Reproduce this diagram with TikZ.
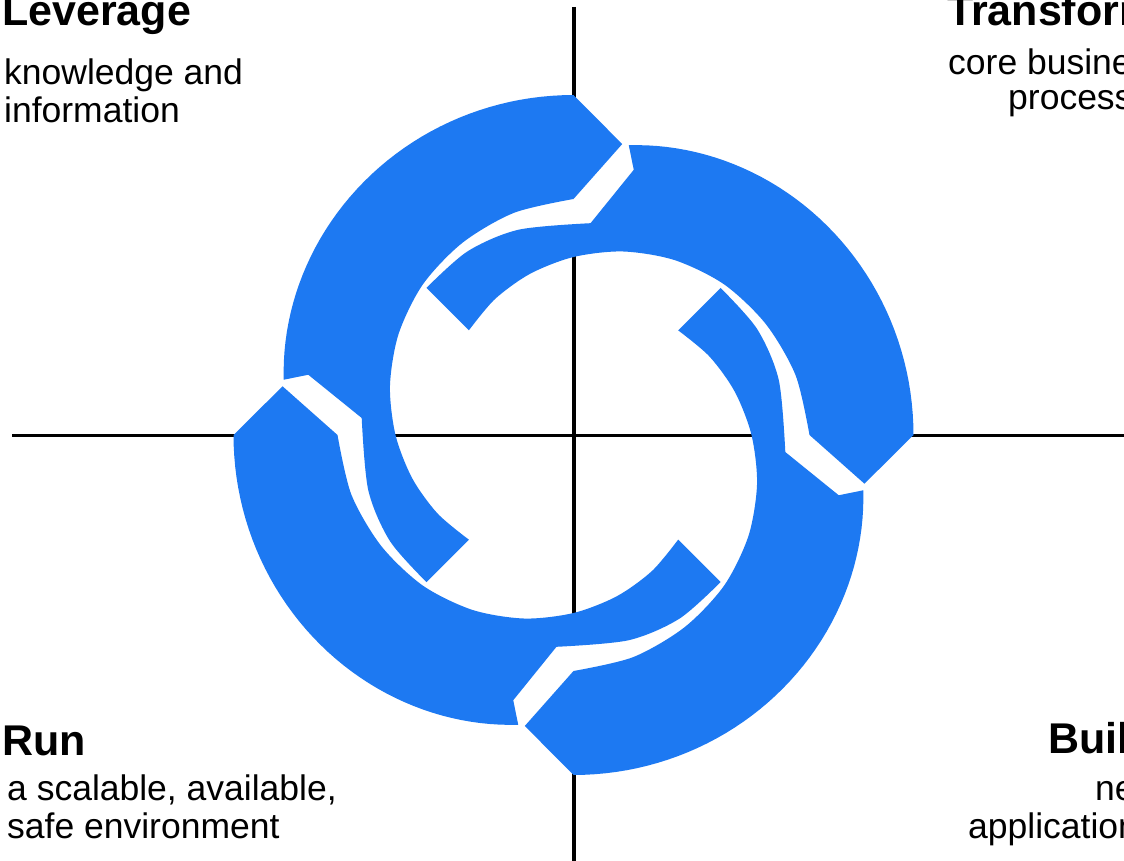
\documentclass[tikz,border=0pt]{standalone}
\usepackage{fontspec}
\setmainfont{Liberation Sans}
\definecolor{ringblue}{RGB}{29,121,242}
\tikzset{
  ttl/.style={font=\fontsize{43}{46}\selectfont\bfseries, inner sep=0pt, text=black},
  sub/.style={font=\fontsize{35.5}{38}\selectfont, inner sep=0pt, text=black},
  axisline/.style={black, line width=3.5pt},
  ringgap/.pic={
    \fill[white] plot[smooth] coordinates {(0:216) (-15:225) (-30:233) (-45:239)}
      -- (-54.5:300) -- (-56:300) -- (-57.8:270) -- (-49.6:209)
      -- plot[smooth] coordinates {(-49.6:209) (-30:209) (-15:209) (0:205)} -- cycle;
  },
  ringseg/.pic={
    \fill[ringblue] plot[smooth] coordinates {(0:208) (-15:212) (-30:212.5) (-49.6:212.5)}
      -- (-57.8:272) -- (-55.8:295)
      -- plot[domain=55.8:135, samples=45] (-\x:{340-45*((135-\x)/79.2)^2})
      -- (-144.5:295) -- (-135:236)
      -- plot[smooth] coordinates {(-135:236) (-120:230) (-105:222) (-90:213) (-75:202)
           (-60:190) (-45:178) (-30:167) (-15:157) (0:148)} -- cycle;
  },
}
\begin{document}
\begin{tikzpicture}[x=1pt,y=1pt]
\useasboundingbox (0,0) rectangle (1124,-861);
\fill[white] (0,0) rectangle (1124,-861);
\clip (0,0) rectangle (1124,-861);
\coordinate (ctr) at (573.5,-435);
\coordinate (vtop) at (573.5,-7);
\coordinate (vbot) at (573.5,-861);
\coordinate (hleft) at (12,-435);
\coordinate (hright) at (1124,-435);
\draw[axisline, line width=4pt] (vtop) -- (vbot);
\draw[axisline, line width=3pt] (hleft) -- (hright);
% white gaps between segments
\pic[rotate=135] (gT) at (ctr) {ringgap};
\pic[rotate=225] (gL) at (ctr) {ringgap};
\pic[rotate=315] (gR) at (ctr) {ringgap};
\pic[rotate=45]  (gB) at (ctr) {ringgap};
% blue segments
\pic[rotate=135] (segT) at (ctr) {ringseg};
\pic[rotate=225] (segL) at (ctr) {ringseg};
\pic[rotate=315] (segR) at (ctr) {ringseg};
\pic[rotate=45]  (segB) at (ctr) {ringseg};
% labels
\node[ttl, anchor=base west] (lev) at (2,-26) {Leverage};
\node[sub, anchor=base west] (lev1) at (4,-85) {knowledge and};
\node[sub, anchor=base west] (lev2) at (4,-123) {information};
\node[ttl, anchor=base west] (tra) at (947,-26) {Transform};
\node[sub, anchor=base west] (tra1) at (948,-75) {core business};
\node[sub, anchor=base west] (tra2) at (1008,-110) {processes};
\node[ttl, anchor=base west] (run) at (2,-755) {Run};
\node[sub, anchor=base west] (run1) at (7,-800) {a scalable, available,};
\node[sub, anchor=base west] (run2) at (7,-838) {safe environment};
\node[ttl, anchor=base west] (bui) at (1048,-753) {Build};
\node[sub, anchor=base west] (bui1) at (1095,-800) {new};
\node[sub, anchor=base west] (bui2) at (968,-838) {applications};
\end{tikzpicture}
\end{document}
